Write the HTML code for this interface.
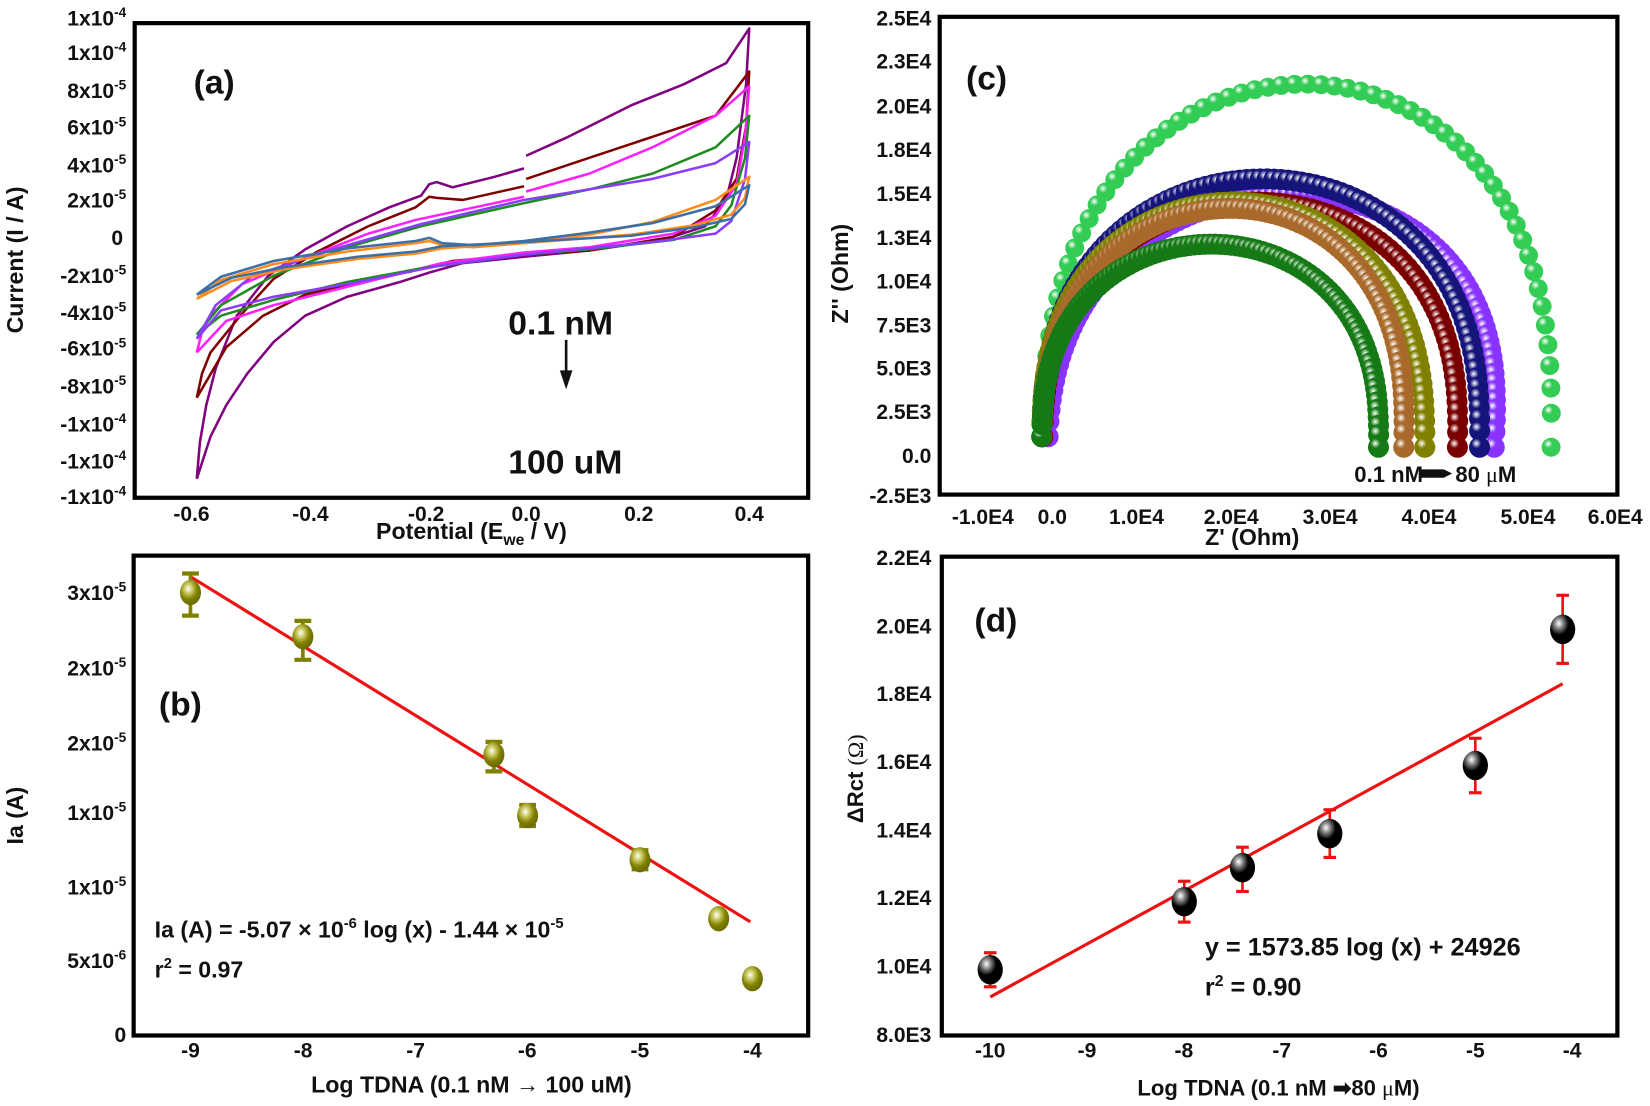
<!DOCTYPE html>
<html><head><meta charset="utf-8">
<style>
html,body{margin:0;padding:0;background:#fff;}
svg{display:block;}
text{font-family:"Liberation Sans Narrow","Liberation Sans",Arial,sans-serif;font-weight:bold;fill:#111;}
.t{font-size:20px;}
.ttl{font-family:"Liberation Sans",Arial,sans-serif;font-size:22px;}
.lab{font-size:32px;}
</style></head>
<body>
<svg id="s" width="1650" height="1106" viewBox="0 0 1568 1051" preserveAspectRatio="none" xmlns="http://www.w3.org/2000/svg">
<defs id="defs">
<radialGradient id="gk" cx="35%" cy="30%" r="65%"><stop offset="0" stop-color="#fff"/><stop offset="0.3" stop-color="#777"/><stop offset="0.6" stop-color="#000"/><stop offset="1" stop-color="#000"/></radialGradient>
<radialGradient id="go" cx="40%" cy="35%" r="65%"><stop offset="0" stop-color="#fff"/><stop offset="0.3" stop-color="#c8c860"/><stop offset="0.65" stop-color="#808000"/><stop offset="1" stop-color="#6a6a00"/></radialGradient>
</defs>

<!-- Panel a -->
<g fill="none" stroke-width="2.4" stroke-linejoin="round">
<path stroke="#800080" d="M187,455 L190,420 196,385 205,350 225,300 255,262 290,237 330,215 370,197 400,186 408,175 415,173 430,178 470,168 498,160 M500,148 540,130 600,100 650,80 690,60 712,27 L709,80 700,150 690,190 670,215 630,228 560,238 498,244 440,250 408,259 380,268 330,282 290,300 260,325 235,355 215,385 200,415 187,455"/>
<path stroke="#800000" d="M187,378 L192,355 200,335 230,298 260,265 300,240 350,215 395,197 408,187 415,188 440,190 498,177 M500,170 560,150 620,130 680,110 712,68 L709,120 700,170 680,200 640,225 560,238 498,242 430,248 410,253 390,258 340,268 290,280 250,300 215,330 187,378"/>
<path stroke="#ff20ff" d="M187,335 L192,315 200,300 230,270 290,245 350,222 395,209 498,187 M500,182 560,165 620,140 680,110 712,82 L708,130 700,175 680,205 640,222 560,235 498,240 420,250 380,260 320,275 260,290 215,305 187,335"/>
<path stroke="#1e8c1e" d="M187,318 L210,290 260,262 330,235 400,215 498,193 560,180 620,165 680,140 712,110 L708,150 695,195 680,215 640,228 560,237 498,242 400,255 330,268 260,285 210,300 187,318"/>
<path stroke="#8a3cff" d="M187,322 L205,290 240,262 320,236 400,213 498,190 560,180 620,170 680,155 712,135 L708,170 695,210 680,222 620,230 498,242 420,252 340,268 260,282 210,295 187,322"/>
<path stroke="#ff8c1a" d="M187,284 L210,266 260,251 330,239 395,231 408,229 420,233 450,235 498,231 560,223 620,211 680,190 712,168 L708,188 695,204 660,214 600,223 498,231 420,236 395,241 340,246 270,256 220,267 187,284"/>
<path stroke="#3d6fa6" d="M187,280 L210,263 260,248 330,236 395,229 408,226 420,231 450,233 498,229 560,221 620,212 680,196 712,176 L708,194 695,208 660,216 600,224 498,230 420,234 395,239 340,244 270,254 220,264 187,280"/>
</g>
<rect x="128" y="22" width="640" height="451" fill="none" stroke="#000" stroke-width="4"/>
<g class="t" text-anchor="end">
<text x="120" y="24">1x10<tspan dy="-8" font-size="13">-4</tspan></text>
<text x="120" y="57">1x10<tspan dy="-8" font-size="13">-4</tspan></text>
<text x="120" y="93">8x10<tspan dy="-8" font-size="13">-5</tspan></text>
<text x="120" y="128">6x10<tspan dy="-8" font-size="13">-5</tspan></text>
<text x="120" y="164">4x10<tspan dy="-8" font-size="13">-5</tspan></text>
<text x="120" y="197">2x10<tspan dy="-8" font-size="13">-5</tspan></text>
<text x="117" y="233">0</text>
<text x="120" y="269">-2x10<tspan dy="-8" font-size="13">-5</tspan></text>
<text x="120" y="304">-4x10<tspan dy="-8" font-size="13">-5</tspan></text>
<text x="120" y="338">-6x10<tspan dy="-8" font-size="13">-5</tspan></text>
<text x="120" y="374">-8x10<tspan dy="-8" font-size="13">-5</tspan></text>
<text x="120" y="410">-1x10<tspan dy="-8" font-size="13">-4</tspan></text>
<text x="120" y="445">-1x10<tspan dy="-8" font-size="13">-4</tspan></text>
<text x="120" y="479">-1x10<tspan dy="-8" font-size="13">-4</tspan></text>
</g>
<g class="t" text-anchor="middle" font-size="21">
<text x="182" y="495">-0.6</text><text x="295" y="495">-0.4</text><text x="405" y="495">-0.2</text><text x="500" y="495">0.0</text><text x="607" y="495">0.2</text><text x="712" y="495">0.4</text>
</g>
<text class="ttl" x="448" y="512" text-anchor="middle">Potential (E<tspan dy="6" font-size="15">we</tspan><tspan dy="-6"> / V)</tspan></text>
<text class="ttl" transform="translate(22,247) rotate(-90)" text-anchor="middle">Current (I / A)</text>
<text class="lab" x="184" y="89">(a)</text>
<text x="483" y="318" font-size="32">0.1 nM</text>
<line x1="538" y1="323" x2="538" y2="356" stroke="#111" stroke-width="2.5"/>
<polygon points="532,352 544,352 538,370" fill="#111"/>
<text x="483" y="450" font-size="32">100 uM</text>

<!-- Panel c -->
<g id="nyq"></g>
<rect x="893" y="16" width="644" height="454" fill="none" stroke="#000" stroke-width="4"/>
<g class="t" text-anchor="end">
<text x="885" y="24">2.5E4</text><text x="885" y="65">2.3E4</text><text x="885" y="108">2.0E4</text><text x="885" y="149">1.8E4</text><text x="885" y="191">1.5E4</text><text x="885" y="233">1.3E4</text><text x="885" y="274">1.0E4</text><text x="885" y="316">7.5E3</text><text x="885" y="357">5.0E3</text><text x="885" y="398">2.5E3</text><text x="885" y="440">0.0</text><text x="885" y="478">-2.5E3</text>
</g>
<g class="t" text-anchor="middle">
<text x="934" y="498">-1.0E4</text><text x="1000" y="498">0.0</text><text x="1080" y="498">1.0E4</text><text x="1170" y="498">2.0E4</text><text x="1264" y="498">3.0E4</text><text x="1358" y="498">4.0E4</text><text x="1452" y="498">5.0E4</text><text x="1535" y="498">6.0E4</text>
</g>
<text class="ttl" x="1190" y="518" text-anchor="middle" font-size="21">Z' (Ohm)</text>
<text class="ttl" transform="translate(806,260) rotate(-90)" text-anchor="middle" font-size="21">Z'' (Ohm)</text>
<text class="lab" x="918" y="85">(c)</text>
<text x="1287" y="458" font-size="21">0.1 nM</text>
<polygon points="1350,446 1372,446 1380,450 1372,454 1350,454" fill="#111"/>
<text x="1383" y="458" font-size="21">80 <tspan font-family="'Liberation Serif',serif" font-weight="normal">μ</tspan>M</text>

<!-- Panel b -->
<rect x="127" y="528" width="641" height="456" fill="none" stroke="#000" stroke-width="4"/>
<line x1="181" y1="548" x2="713" y2="876" stroke="#ee1111" stroke-width="3"/>
<g id="pb"></g>
<g class="t" text-anchor="end">
<text x="120" y="570">3x10<tspan dy="-8" font-size="13">-5</tspan></text>
<text x="120" y="642">2x10<tspan dy="-8" font-size="13">-5</tspan></text>
<text x="120" y="713">2x10<tspan dy="-8" font-size="13">-5</tspan></text>
<text x="120" y="779">1x10<tspan dy="-8" font-size="13">-5</tspan></text>
<text x="120" y="850">1x10<tspan dy="-8" font-size="13">-5</tspan></text>
<text x="120" y="920">5x10<tspan dy="-8" font-size="13">-6</tspan></text>
<text x="120" y="990">0</text>
</g>
<g class="t" text-anchor="middle" font-size="21">
<text x="181" y="1005">-9</text><text x="288" y="1005">-8</text><text x="395" y="1005">-7</text><text x="501" y="1005">-6</text><text x="608" y="1005">-5</text><text x="715" y="1005">-4</text>
</g>
<text class="ttl" x="448" y="1038" text-anchor="middle">Log TDNA (0.1 nM → 100 uM)</text>
<text class="ttl" transform="translate(22,775) rotate(-90)" text-anchor="middle">Ia (A)</text>
<text class="lab" x="151" y="680">(b)</text>
<text x="147" y="891" font-size="22">Ia (A) = -5.07 × 10<tspan dy="-9" font-size="14">-6</tspan><tspan dy="9"> log (x) - 1.44 × 10</tspan><tspan dy="-9" font-size="14">-5</tspan></text>
<text x="147" y="929" font-size="22">r<tspan dy="-9" font-size="14">2</tspan><tspan dy="9"> = 0.97</tspan></text>

<!-- Panel d -->
<rect x="895" y="529" width="642" height="455" fill="none" stroke="#000" stroke-width="4"/>
<g id="pd"></g>
<g class="t" text-anchor="end" font-size="21">
<text x="885" y="537">2.2E4</text><text x="885" y="602">2.0E4</text><text x="885" y="666">1.8E4</text><text x="885" y="731">1.6E4</text><text x="885" y="796">1.4E4</text><text x="885" y="860">1.2E4</text><text x="885" y="925">1.0E4</text><text x="885" y="990">8.0E3</text>
</g>
<g class="t" text-anchor="middle" font-size="21">
<text x="941" y="1005">-10</text><text x="1033" y="1005">-9</text><text x="1125" y="1005">-8</text><text x="1218" y="1005">-7</text><text x="1310" y="1005">-6</text><text x="1402" y="1005">-5</text><text x="1494" y="1005">-4</text>
</g>
<text x="1215" y="1041" text-anchor="middle" font-size="21">Log TDNA (0.1 nM <tspan>➡</tspan>80 <tspan font-family="'Liberation Serif',serif" font-weight="normal">μ</tspan>M)</text>
<text transform="translate(820,740) rotate(-90)" text-anchor="middle" font-size="21">ΔRct <tspan font-family="'Liberation Serif',serif" font-weight="normal">(Ω)</tspan></text>
<text class="lab" x="926" y="600">(d)</text>
<text x="1145" y="908" font-size="24">y = 1573.85 log (x) + 24926</text>
<text x="1145" y="946" font-size="24">r<tspan dy="-9" font-size="15">2</tspan><tspan dy="9"> = 0.90</tspan></text>
</svg>
<script>
(function(){
var NS="http://www.w3.org/2000/svg";
function el(t,a,p){var e=document.createElementNS(NS,t);for(var k in a)e.setAttribute(k,a[k]);p.appendChild(e);return e;}
var defs=document.getElementById('defs');
function grad(id,c){var g=el('radialGradient',{id:id,cx:'35%',cy:'32%',r:'65%'},defs);
el('stop',{offset:'0','stop-color':'#fff'},g);el('stop',{offset:'0.35','stop-color':c},g);el('stop',{offset:'1','stop-color':c},g);}
var nyq=document.getElementById('nyq');
// color, cx, rx, ry, n, skew, r
var series=[
 ['#33cc55',1232,242,340,60,0.15,9],
 ['#8833ff',1208,212,235,100,0.35,10],
 ['#14147a',1198,208,250,100,0.1,10],
 ['#7a0000',1188,197,228,100,0.15,10],
 ['#808000',1172,182,228,100,0.05,10],
 ['#a8692a',1162,172,222,100,0.2,10],
 ['#157a15',1150,160,188,100,0.1,10]];
var base=425;
series.forEach(function(s,i){
 var id='gn'+i;grad(id,s[0]);
 var n=s[4];
 for(var j=0;j<=n;j++){
  var t=Math.PI*j/n;
  var x=s[1]-s[2]*Math.cos(t)+s[5]*s[2]*Math.sin(t)*0.3;
  var sn=Math.sin(t);
  var y=base-s[3]*Math.pow(sn,0.8)-(1-t/Math.PI)*10;
  el('circle',{cx:x.toFixed(1),cy:y.toFixed(1),r:s[6],fill:'url(#'+id+')'},nyq);
 }
});
// panel b
var pb=document.getElementById('pb');
function bx(v){return 181+(v+9)*106.8;}
var bp=[[-9,563,545,585],[-8,605,590,627],[-6.3,717,705,733],[-6,775,765,785],[-5,817,808,826],[-4.3,873,868,878],[-4,930,926,934]];
bp.forEach(function(p){var x=bx(p[0]);
 el('line',{x1:x,y1:p[2],x2:x,y2:p[3],stroke:'#808000','stroke-width':3.5},pb);
 el('line',{x1:x-8,y1:p[2],x2:x+8,y2:p[2],stroke:'#808000','stroke-width':4},pb);
 el('line',{x1:x-8,y1:p[3],x2:x+8,y2:p[3],stroke:'#808000','stroke-width':4},pb);
 el('ellipse',{cx:x,cy:p[1],rx:10,ry:12,fill:'url(#go)'},pb);});
// panel d
var pd=document.getElementById('pd');
function dx(v){return 941+(v+10)*92.2;}
function dy(v){return 983-(v-8000)/2000*64.7;}
el('line',{x1:dx(-10),y1:dy(9100),x2:dx(-4.1),y2:dy(18300),stroke:'#ee1111','stroke-width':3},pd);
var dp=[[-10,9900,9400,10400],[-8,11900,11300,12500],[-7.4,12900,12200,13500],[-6.5,13900,13200,14600],[-5,15900,15100,16700],[-4.1,19900,18900,20900]];
dp.forEach(function(p){var x=dx(p[0]);
 el('line',{x1:x,y1:dy(p[2]),x2:x,y2:dy(p[3]),stroke:'#ee1111','stroke-width':2.5},pd);
 el('line',{x1:x-6,y1:dy(p[2]),x2:x+6,y2:dy(p[2]),stroke:'#ee1111','stroke-width':3},pd);
 el('line',{x1:x-6,y1:dy(p[3]),x2:x+6,y2:dy(p[3]),stroke:'#ee1111','stroke-width':3},pd);
 el('ellipse',{cx:x,cy:dy(p[1]),rx:12,ry:14,fill:'url(#gk)'},pd);});
})();
</script>
</body></html>
